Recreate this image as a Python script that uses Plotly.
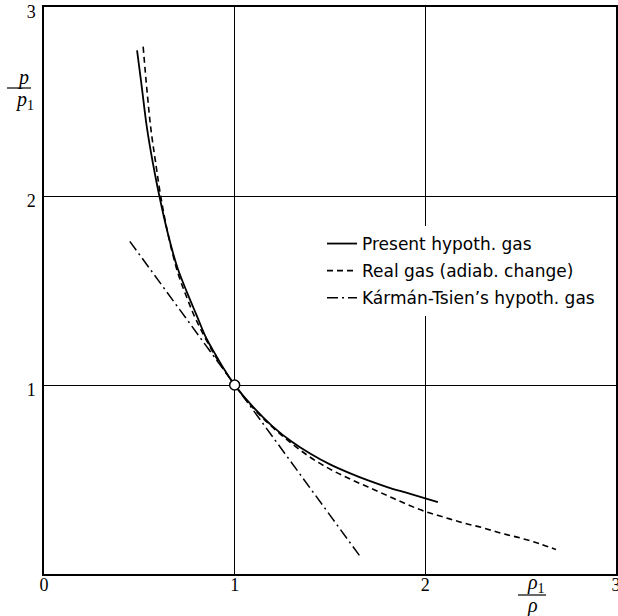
import plotly.graph_objects as go

# ---- data ----
present_x = [0.488, 0.51, 0.54, 0.57, 0.605, 0.65, 0.70, 0.75, 0.80, 0.85, 0.90, 0.95, 1.00,
             1.10, 1.20, 1.30, 1.40, 1.50, 1.60, 1.70, 1.80, 1.90, 2.00, 2.066]
present_y = [2.77, 2.60, 2.36, 2.18, 2.00, 1.80, 1.62, 1.49, 1.37, 1.25, 1.16, 1.075, 1.00,
             0.88, 0.78, 0.70, 0.635, 0.58, 0.535, 0.495, 0.46, 0.43, 0.40, 0.38]

real_x = [0.52, 0.54, 0.56, 0.585, 0.612, 0.65, 0.70, 0.75, 0.80, 0.90, 1.00,
          1.10, 1.20, 1.30, 1.40, 1.50, 1.60, 1.70, 1.80, 1.90, 2.00, 2.10, 2.20, 2.30, 2.40, 2.50, 2.60, 2.685]
real_y = [2.79, 2.56, 2.36, 2.18, 2.00, 1.80, 1.60, 1.46, 1.34, 1.15, 1.00,
          0.875, 0.775, 0.69, 0.615, 0.555, 0.505, 0.46, 0.415, 0.37, 0.33, 0.30, 0.27, 0.245, 0.215, 0.19, 0.16, 0.13]

karman_x = [0.45, 1.00, 1.66]
karman_y = [1.76, 1.00, 0.09]

ref_x = [1.0]
ref_y = [1.0]

x_ticks = [0, 1, 2, 3]
y_ticks = [1, 2, 3]

names = ["Present hypoth. gas", "Real gas (adiab. change)", "Kármán-Tsien’s hypoth. gas"]

# plot-area geometry in pixels (for placing decorations only)
L, R, T, B = 44, 616, 7, 574
W, H = R - L, B - T


def px(xp):
    return (xp - L) / W


def py(yp):
    return (B - yp) / H


# ---- figure ----
fig = go.Figure()
fig.add_trace(go.Scatter(x=present_x, y=present_y, mode="lines", name=names[0],
                         line=dict(color="black", width=1.8, shape="spline"),
                         legendgroup="a"))
fig.add_trace(go.Scatter(x=real_x, y=real_y, mode="lines", name=names[1],
                         line=dict(color="black", width=1.6, dash="6px,4px", shape="spline"),
                         legendgroup="b"))
fig.add_trace(go.Scatter(x=karman_x, y=karman_y, mode="lines", name=names[2],
                         line=dict(color="black", width=1.5, dash="11px,4px,2px,4px"),
                         legendgroup="c"))
fig.add_trace(go.Scatter(x=ref_x, y=ref_y, mode="markers", showlegend=False,
                         marker=dict(size=10, color="white", line=dict(color="black", width=1.5))))

axis_common = dict(range=[0, 3], showgrid=True, gridcolor="black", gridwidth=1,
                   zeroline=False, showline=True, linecolor="black", linewidth=1.5,
                   mirror=True, ticks="", fixedrange=True, automargin=False,
                   ticklabeloverflow="allow",
                   tickfont=dict(family="Liberation Serif", size=18, color="black"))

fig.update_layout(
    width=618, height=616,
    margin=dict(l=L, r=618 - R, t=T, b=616 - B, autoexpand=False),
    paper_bgcolor="white", plot_bgcolor="white",
    xaxis=dict(axis_common, tickvals=x_ticks, ticktext=[str(v) for v in x_ticks],
               ticklabelstandoff=-6),
    yaxis=dict(axis_common, tickvals=y_ticks, ticktext=[str(v) for v in y_ticks],
               ticklabelstandoff=3, ticklabelshift=5),
    legend=dict(x=px(322), y=py(226), xanchor="left", yanchor="top", bgcolor="white",
                font=dict(family="DejaVu Sans", size=17, color="black"),
                tracegroupgap=2, traceorder="grouped"),
    showlegend=True,
)

lab_font = dict(family="Liberation Serif", size=20, color="black")
# y-axis title p / p1
fig.add_annotation(text="<i>p</i>", xref="paper", yref="paper", x=px(23), y=py(77),
                   xanchor="center", yanchor="middle", showarrow=False, font=lab_font)
fig.add_annotation(text="<i>p</i><sub>1</sub>", xref="paper", yref="paper", x=px(24), y=py(100),
                   xanchor="center", yanchor="middle", showarrow=False, font=lab_font)
fig.add_shape(type="line", xref="paper", yref="paper", x0=px(7), x1=px(31),
              y0=py(88), y1=py(88), line=dict(color="black", width=1.2))

# x-axis title rho1 / rho
fig.add_annotation(text="<i>ρ</i><sub>1</sub>", xref="paper", yref="paper", x=px(536), y=py(584),
                   xanchor="center", yanchor="middle", showarrow=False, font=lab_font)
fig.add_annotation(text="<i>ρ</i>", xref="paper", yref="paper", x=px(532), y=py(605),
                   xanchor="center", yanchor="middle", showarrow=False, font=lab_font)
fig.add_shape(type="line", xref="paper", yref="paper", x0=px(518), x1=px(546),
              y0=py(595), y1=py(595), line=dict(color="black", width=1.2))

fig.write_html("out.html",
               config={"displayModeBar": False},
               post_script="document.body.style.margin='0';document.body.style.overflow='hidden';")
